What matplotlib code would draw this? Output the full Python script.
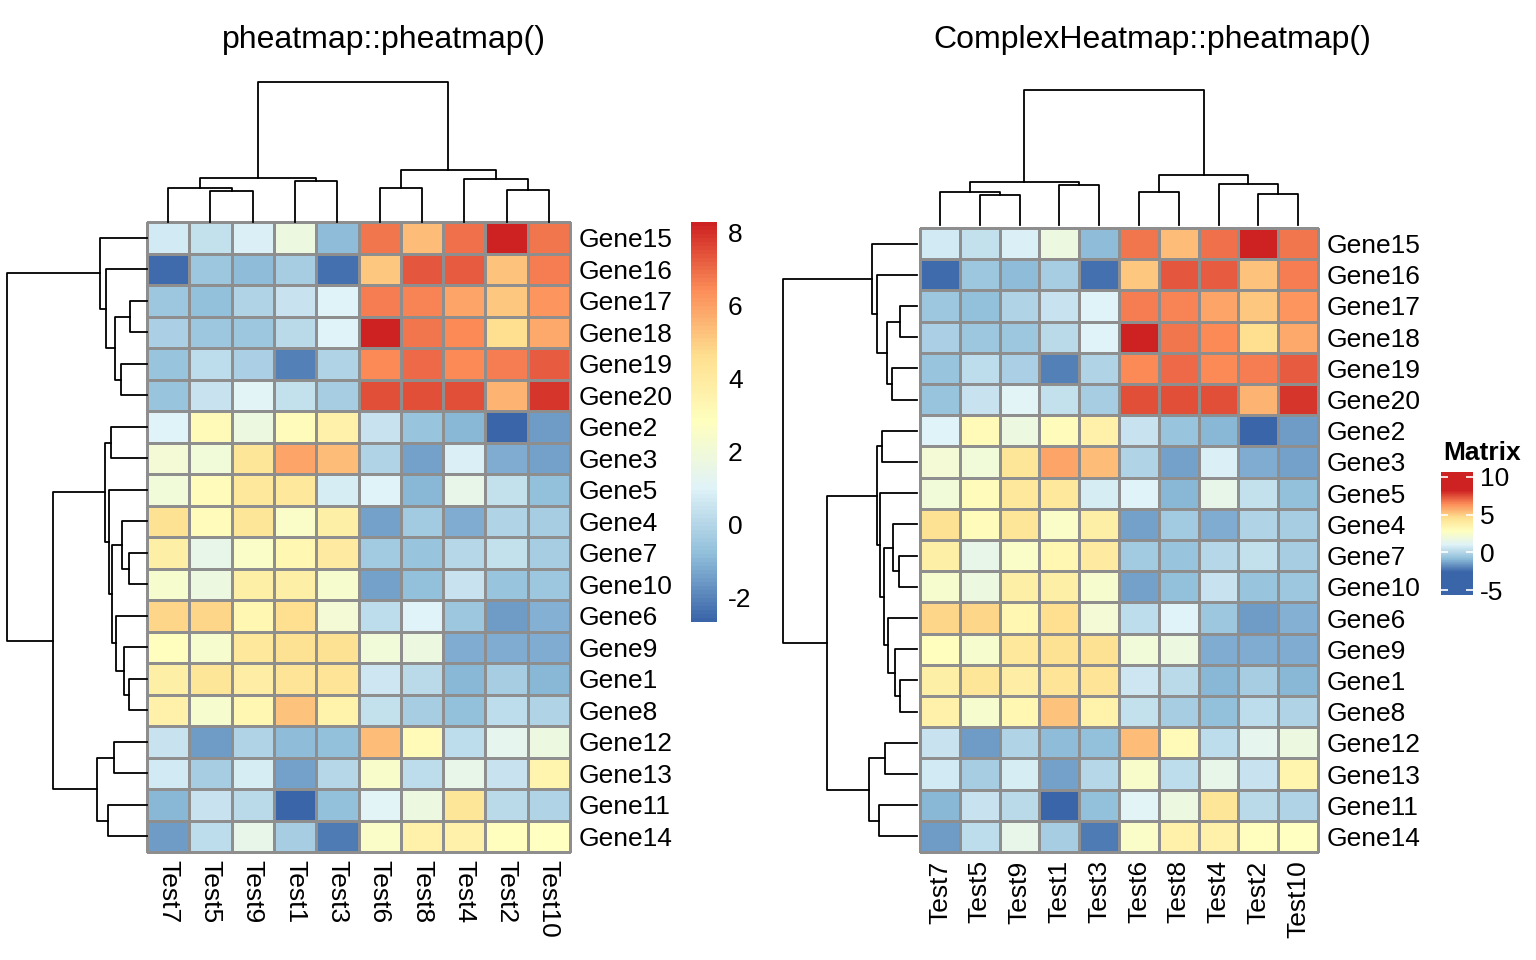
import numpy as np
import matplotlib
matplotlib.use("Agg")
import matplotlib.pyplot as plt
from matplotlib.colors import LinearSegmentedColormap, Normalize

plt.rcParams['font.family'] = ['Liberation Sans', 'DejaVu Sans']

# rows and columns in the order the clustering puts them
genes = ['Gene15', 'Gene16', 'Gene17', 'Gene18', 'Gene19', 'Gene20', 'Gene2', 'Gene3',
         'Gene5', 'Gene4', 'Gene7', 'Gene10', 'Gene6', 'Gene9', 'Gene1', 'Gene8',
         'Gene12', 'Gene13', 'Gene11', 'Gene14']
tests = ['Test7', 'Test5', 'Test9', 'Test1', 'Test3', 'Test6', 'Test8', 'Test4', 'Test2', 'Test10']

values = [
    [0.7, 0.3, 0.95, 1.8, -0.9, 6.8, 5.4, 6.9, 8.3, 6.8],
    [-2.45, -0.5, -0.8, -0.3, -2.4, 5.2, 7.4, 7.3, 5.3, 6.7],
    [-0.5, -0.75, -0.05, 0.5, 1.0, 6.7, 6.6, 5.9, 5.2, 6.3],
    [-0.15, -0.5, -0.5, 0.1, 1.0, 8.25, 6.8, 6.5, 4.6, 5.8],
    [-0.65, 0.2, -0.15, -2.1, -0.1, 6.5, 7.0, 6.5, 6.7, 7.3],
    [-0.6, 0.5, 1.1, 0.4, -0.3, 7.5, 7.5, 7.45, 5.6, 7.9],
    [1.0, 3.1, 1.8, 3.0, 3.6, 0.5, -0.65, -1.0, -2.66, -1.5],
    [2.1, 2.0, 4.3, 5.9, 5.4, -0.1, -1.45, 0.95, -1.15, -1.45],
    [2.0, 3.0, 4.2, 4.2, 0.75, 1.0, -0.95, 1.5, 0.3, -0.7],
    [4.5, 3.0, 4.3, 2.6, 3.8, -1.45, -0.45, -1.15, -0.1, -0.3],
    [3.8, 1.5, 2.6, 3.3, 4.0, -0.45, -0.6, 0.0, 0.3, -0.25],
    [2.3, 1.8, 3.7, 3.8, 2.3, -1.45, -0.7, 0.5, -0.6, -0.5],
    [4.8, 4.8, 3.3, 4.6, 2.1, 0.2, 1.0, -0.55, -1.5, -1.1],
    [2.9, 2.3, 4.2, 4.5, 4.5, 2.0, 1.8, -1.2, -1.15, -1.2],
    [3.8, 4.3, 3.9, 4.4, 4.4, 0.6, 0.15, -0.95, -0.25, -1.0],
    [3.6, 2.3, 3.3, 5.3, 3.5, 0.3, -0.25, -0.7, 0.2, -0.1],
    [0.45, -1.5, -0.1, -0.85, -0.7, 5.45, 3.1, 0.2, 1.3, 1.8],
    [0.65, -0.3, 0.75, -1.45, 0.0, 2.4, 0.2, 1.4, 0.45, 3.4],
    [-0.95, 0.5, 0.1, -2.66, -0.7, 1.1, 1.8, 4.3, 0.1, -0.05],
    [-1.5, 0.2, 1.5, -0.25, -2.2, 2.6, 3.6, 3.6, 2.85, 2.8],
]

# merges (child a, child b, height); children >= n are earlier merges
col_merges = [(1, 2, 31.0), (0, 10, 33.7), (3, 4, 41.3), (11, 12, 44.3), (5, 6, 34.3),
              (8, 9, 31.7), (7, 15, 42.7), (14, 16, 52.0), (13, 17, 139.7)]
row_merges = [(2, 3, 17.3), (4, 5, 26.0), (20, 21, 31.7), (1, 22, 41.3), (0, 23, 46.7),
              (6, 7, 36.3), (10, 11, 18.3), (9, 26, 24.7), (14, 15, 17.7), (13, 28, 22.7),
              (12, 29, 30.7), (27, 30, 35.0), (8, 31, 38.3), (25, 32, 42.3), (16, 17, 33.3),
              (18, 19, 39.3), (34, 35, 49.7), (33, 36, 94.0), (24, 37, 140.0)]

vmin, vmax = -2.66, 8.3
bar_ticks = [-2, 0, 2, 4, 6, 8]
legend_ticks = [-5, 0, 5, 10]
legend_range = (-5.66, 10.66)

palette = ['#3A65A9', '#91BFDB', '#E0F3F8', '#FFFFBF', '#FEE090', '#FC8D59', '#CE2222']
cmap = LinearSegmentedColormap.from_list('rdylbu', palette, N=100)
norm = Normalize(vmin, vmax)

W, H = 1536, 960
fig = plt.figure(figsize=(W / 100, H / 100), dpi=100)


def px_axes(x0, y0, x1, y1):
    ax = fig.add_axes([x0 / W, 1 - y1 / H, (x1 - x0) / W, (y1 - y0) / H])
    ax.set_axis_off()
    return ax


def tree_segments(merges, n):
    pos = [i + 0.5 for i in range(n)]
    hgt = [0.0] * n
    segs = []
    for a, b, h in merges:
        segs.append(([pos[a], pos[a], pos[b], pos[b]], [hgt[a], h, h, hgt[b]]))
        pos.append((pos[a] + pos[b]) / 2)
        hgt.append(h)
    return segs


def draw_panel(box, top_box, left_box, col_rot, title, title_x):
    data = np.array(values)
    nr, nc = data.shape
    ax = fig.add_axes([box[0] / W, 1 - box[3] / H, (box[2] - box[0]) / W, (box[3] - box[1]) / H])
    mesh = ax.pcolormesh(data, cmap=cmap, norm=norm, edgecolors='#8E8E8E', linewidth=1.0)
    mesh.set_clip_on(False)
    ax.set_xlim(0, nc)
    ax.set_ylim(nr, 0)
    for s in ax.spines.values():
        s.set_visible(False)
    ax.set_xticks(np.arange(nc) + 0.5)
    ax.set_xticklabels(tests, rotation=col_rot, fontsize=19)
    ax.yaxis.tick_right()
    ax.set_yticks(np.arange(nr) + 0.5)
    ax.set_yticklabels(genes, fontsize=19)
    ax.tick_params(length=0, pad=6)

    axt = px_axes(*top_box)
    for xs, ys in tree_segments(col_merges, nc):
        axt.plot(xs, ys, color='black', lw=1.3, solid_capstyle='projecting', clip_on=False)
    axt.set_xlim(0, nc)
    axt.set_ylim(0, max(m[2] for m in col_merges))

    axl = px_axes(*left_box)
    for ys, xs in tree_segments(row_merges, nr):
        axl.plot(xs, ys, color='black', lw=1.3, solid_capstyle='projecting', clip_on=False)
    axl.set_ylim(nr, 0)
    axl.set_xlim(max(m[2] for m in row_merges), 0)

    fig.text(title_x / W, 1 - 40 / H, title, ha='center', va='center', fontsize=23)


draw_panel((147, 222, 570, 852), (147, 82, 570, 222), (7, 222, 147, 852), 270,
           'pheatmap::pheatmap()', 384)
draw_panel((920, 228, 1318, 852), (920, 90, 1318, 225), (783, 228, 917, 852), 90,
           'ComplexHeatmap::pheatmap()', 1152)

# pheatmap colour bar
axc = fig.add_axes([691 / W, 1 - 622 / H, 26 / W, 400 / H])
grad = np.linspace(vmin, vmax, 200).reshape(-1, 1)
axc.imshow(grad, cmap=cmap, norm=norm, aspect='auto', origin='lower',
           extent=(0, 1, vmin, vmax))
axc.set_xlim(0, 1)
axc.set_ylim(vmin, vmax)
axc.set_xticks([])
axc.yaxis.tick_right()
axc.set_yticks(bar_ticks)
axc.set_yticklabels([str(t) for t in bar_ticks], fontsize=19)
axc.tick_params(length=0, pad=8)
for s in axc.spines.values():
    s.set_visible(False)

# ComplexHeatmap legend
axg = fig.add_axes([1441 / W, 1 - 595 / H, 32 / W, 123 / H])
grad2 = np.linspace(legend_range[0], legend_range[1], 200).reshape(-1, 1)
axg.imshow(grad2, cmap=cmap, norm=norm, aspect='auto', origin='lower',
           extent=(0, 1, legend_range[0], legend_range[1]))
axg.hlines(legend_ticks, 0, 0.22, color='white', lw=1.2)
axg.hlines(legend_ticks, 0.78, 1, color='white', lw=1.2)
axg.set_xlim(0, 1)
axg.set_ylim(*legend_range)
axg.set_xticks([])
axg.yaxis.tick_right()
axg.set_yticks(legend_ticks)
axg.set_yticklabels([str(t) for t in legend_ticks], fontsize=19)
axg.tick_params(length=0, pad=5)
for s in axg.spines.values():
    s.set_visible(False)
fig.text(1443 / W, 1 - 453 / H, 'Matrix', ha='left', va='center', fontsize=19, fontweight='bold')

fig.savefig('out.png', dpi=100, facecolor='white')
